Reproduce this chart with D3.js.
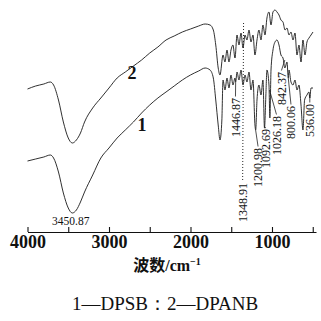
<!DOCTYPE html>
<html>
<head>
<meta charset="utf-8">
<script src="https://cdn.jsdelivr.net/npm/d3@7"></script>
<style>
  html, body { margin: 0; padding: 0; background: #fff; }
  svg { display: block; }
</style>
</head>
<body>
<svg id="chart" width="321" height="321"></svg>
<script>
// wavenumber (cm-1) and relative transmittance
const wavenumbers2 = [4000, 3900, 3800, 3720, 3680, 3620, 3560, 3500, 3450, 3400, 3350, 3300, 3200, 3100, 3000,
  2900, 2800, 2700, 2600, 2500, 2400, 2300, 2200, 2100, 2000, 1900, 1820, 1760, 1720, 1690, 1660, 1638,
  1601, 1577, 1552, 1528, 1503, 1479, 1454, 1429, 1405, 1380, 1356, 1331, 1307, 1282, 1258, 1233, 1209,
  1184, 1160, 1135, 1111, 1086, 1062, 1037, 1012, 988, 963, 939, 914, 890, 865, 840, 816, 791, 767, 742,
  718, 693, 669, 644, 620, 595, 571, 546, 521, 497];
const transmit2 = [70.5, 72, 73, 74, 72.5, 65, 54, 46, 43.5, 45, 48.5, 54, 61, 66, 71,
  76, 79, 82, 85, 88.5, 91.5, 95, 97, 99, 100.5, 102, 103, 102.5, 100, 92.5, 81, 77.5,
  87.5, 84, 90, 84, 90, 92.5, 86, 97.5, 92.5, 98.5, 91, 97.5, 95, 100, 94, 97.5, 87.5,
  95, 100, 95, 102.5, 97.5, 106, 109, 102.5, 109, 110, 109, 107.5, 105, 104, 100, 101, 97.5, 99, 95,
  98.5, 87.5, 92.5, 84, 95, 87.5, 94, 96, 97.5, 99];

const wavenumbers1 = [4000, 3900, 3800, 3720, 3680, 3620, 3560, 3500, 3450, 3400, 3350, 3300, 3200, 3100, 3000,
  2900, 2800, 2700, 2600, 2500, 2400, 2300, 2200, 2100, 2000, 1900, 1820, 1760, 1720, 1690, 1660, 1638,
  1615, 1601, 1577, 1552, 1528, 1503, 1479, 1454, 1446, 1429, 1405, 1380, 1356, 1331, 1307, 1282, 1258,
  1233, 1209, 1200, 1184, 1160, 1135, 1111, 1092, 1075, 1062, 1037, 1026, 1012, 988, 963, 939, 914, 890,
  865, 842, 816, 800, 791, 767, 742, 718, 693, 669, 644, 620, 600, 571, 546, 536, 521, 497];
const transmit1 = [34.5, 35.5, 36.5, 37.5, 36, 29, 18.5, 11, 8.5, 10, 14, 19, 27.5, 36, 41,
  46, 50, 54, 58.5, 62.5, 66, 69, 72, 75, 77.5, 79.5, 81, 80, 76, 65, 52.5, 45,
  55, 75, 70, 76, 71, 77.5, 72.5, 76, 74, 79, 75, 80, 72.5, 77.5, 74, 79, 70,
  75, 52.5, 50, 65, 72.5, 67.5, 75, 51, 67.5, 80, 72.5, 56, 80, 90, 94, 95, 92.5, 87.5,
  86, 81, 84, 76, 80, 74, 72.5, 75, 70, 72.5, 62.5, 50, 65, 67.5, 69, 66, 71, 71];

const tickValues = [4000, 3500, 3000, 2500, 2000, 1500, 1000, 500];
const tickLabels = ["4000", "", "3000", "", "2000", "", "1000", ""];

// peak labels: text, where the leader starts (wavenumber, transmittance), where the label stands
const peakLabels = [
  { text: "1446.87", w: 1446, t: 74, labelW: 1448, labelT: 46.5, dotted: false },
  { text: "1348.91", w: 1348.91, t: 103.5, labelW: 1360, labelT: 4, dotted: true },
  { text: "1200.98", w: 1200.98, t: 50, labelW: 1171, labelT: 21.5, dotted: false },
  { text: "1092.69", w: 1092.69, t: 51, labelW: 1073, labelT: 31, dotted: false },
  { text: "1026.18", w: 1030, t: 70, labelW: 945, labelT: 37.5, dotted: false },
  { text: "842.37", w: 842.37, t: 85, labelW: 884, labelT: 62.5, dotted: false },
  { text: "800.06", w: 800.06, t: 76, labelW: 767, labelT: 45.5, dotted: false },
  { text: "536.00", w: 536, t: 67.5, labelW: 536, labelT: 46.5, dotted: false },
];
const minLabel = { text: "3450.87", w: 3470, t: 2.5 };
const curveNames = [
  { text: "1", w: 2594, t: 52.5 },
  { text: "2", w: 2717, t: 78.5 },
];

const svg = d3.select("#chart");
const x = d3.scaleLinear().domain([4000, 460]).range([27.5, 316]);
const y = d3.scaleLinear().domain([0, 115]).range([230, 0]);
const serif = "'Times New Roman', 'Liberation Serif', serif";

const line = d3.line()
  .x((d) => x(d[0]))
  .y((d) => y(d[1]))
  .curve(d3.curveMonotoneX);

function drawSpectrum(ws, ts) {
  svg.append("path")
    .datum(ws.map((w, i) => [w, ts[i]]))
    .attr("d", line)
    .attr("fill", "none")
    .attr("stroke", "#1a1a1a")
    .attr("stroke-width", 0.9)
    .attr("stroke-linejoin", "round");
}
drawSpectrum(wavenumbers2, transmit2);
drawSpectrum(wavenumbers1, transmit1);

// x axis, ticks pointing up
const gx = svg.append("g")
  .attr("transform", `translate(0,${y(-1)})`)
  .call(d3.axisBottom(x)
    .tickValues(tickValues)
    .tickFormat((d, i) => tickLabels[i])
    .tickSizeInner(-5)
    .tickSizeOuter(0)
    .tickPadding(3));
gx.select(".domain").attr("stroke", "#111").attr("stroke-width", 1.2);
gx.selectAll(".tick line").attr("stroke", "#111").attr("stroke-width", 1.1);
gx.selectAll(".tick text")
  .attr("fill", "#111")
  .style("font-family", serif)
  .style("font-weight", "bold")
  .style("font-size", "18px");

const title = svg.append("text")
  .attr("x", 167)
  .attr("y", 271)
  .attr("text-anchor", "middle")
  .attr("fill", "#111")
  .style("font-weight", "bold")
  .style("font-size", "16px");
title.append("tspan").style("font-family", "'Noto Sans CJK SC', sans-serif").text("波数");
title.append("tspan").style("font-family", serif).text("/cm");
title.append("tspan").style("font-family", serif).style("font-size", "10px").attr("dy", -6).text("−1");

svg.append("text")
  .attr("x", 165)
  .attr("y", 310)
  .attr("text-anchor", "middle")
  .attr("fill", "#111")
  .style("font-family", serif)
  .style("font-size", "19px")
  .text("1—DPSB：2—DPANB");

// curve numbers
svg.selectAll("text.curve-name")
  .data(curveNames)
  .join("text")
  .attr("class", "curve-name")
  .attr("x", (d) => x(d.w))
  .attr("y", (d) => y(d.t))
  .attr("dy", "0.35em")
  .attr("text-anchor", "middle")
  .attr("fill", "#111")
  .style("font-family", serif)
  .style("font-weight", "bold")
  .style("font-size", "18px")
  .text((d) => d.text);

svg.append("text")
  .attr("x", x(minLabel.w))
  .attr("y", y(minLabel.t))
  .attr("text-anchor", "middle")
  .attr("fill", "#111")
  .style("font-family", serif)
  .style("font-size", "11.5px")
  .text(minLabel.text);

// rotated peak labels with leader lines
const labelLayer = svg.append("g");
peakLabels.forEach((d) => {
  const lx = x(d.labelW);
  const ly = y(d.labelT);
  const txt = labelLayer.append("text")
    .attr("transform", `translate(${lx},${ly}) rotate(-90)`)
    .attr("dy", "0.35em")
    .attr("text-anchor", "start")
    .attr("fill", "#111")
    .style("font-family", serif)
    .style("font-size", "12px")
    .text(d.text);
  const top = ly - txt.node().getComputedTextLength() - 1.5;
  labelLayer.append("line")
    .attr("x1", x(d.w))
    .attr("y1", y(d.t))
    .attr("x2", lx)
    .attr("y2", top)
    .attr("stroke", "#222")
    .attr("stroke-width", d.dotted ? 1 : 0.8)
    .attr("stroke-dasharray", d.dotted ? "1,2" : null);
});
</script>
</body>
</html>
